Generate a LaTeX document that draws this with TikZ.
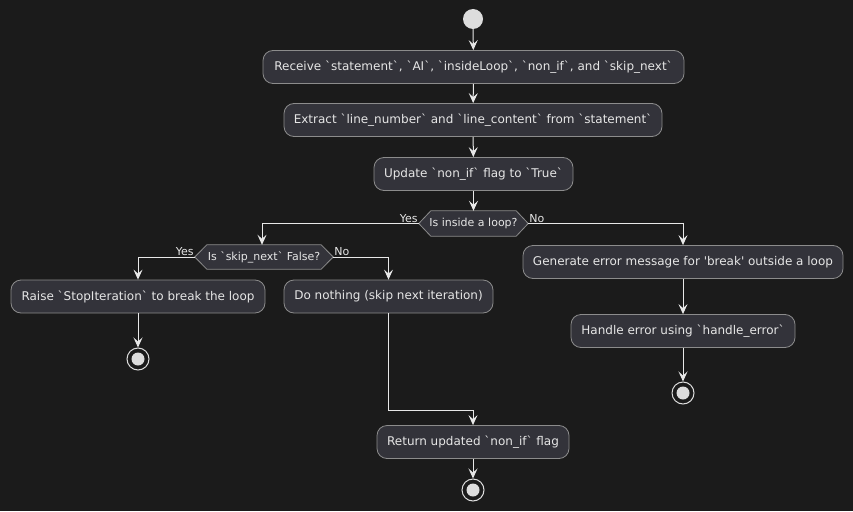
\documentclass[tikz,border=0pt]{standalone}
\usepackage{fontspec}
\setmainfont{DejaVu Sans}[Ligatures=TeXOff]
\usetikzlibrary{arrows.meta}
\definecolor{bg}{HTML}{1B1B1B}
\definecolor{boxfill}{HTML}{33333A}
\definecolor{boxline}{HTML}{8C8C8C}
\definecolor{txt}{HTML}{E6E6E6}
\definecolor{ln}{HTML}{E8E8E8}
\definecolor{dot}{HTML}{DDDDDD}
\tikzset{
  act/.style={draw=boxline, fill=boxfill, rounded corners=10pt, line width=0.8pt,
    text=txt, minimum height=33pt, inner sep=0pt, font=\fontsize{12}{14}\selectfont},
  dec/.style={inner sep=0pt, minimum height=25pt, text=txt, font=\fontsize{11}{13}\selectfont},
  hexa/.style={draw=boxline, fill=boxfill, line width=0.8pt},
  conn/.style={draw=ln, line width=1pt, -{Stealth[length=10pt,width=9pt,inset=4pt]}},
  lbl/.style={text=txt, inner sep=1pt, font=\fontsize{11}{13}\selectfont},
  startdot/.style={circle, fill=dot, minimum size=20pt, inner sep=0pt},
  enddot/.style={circle, draw=dot, line width=1pt, fill=bg, minimum size=22pt, inner sep=0pt,
    path picture={\fill[dot] (path picture bounding box.center) circle (6.5pt);}},
}
\begin{document}
\begin{tikzpicture}[x=1pt,y=-1pt]
\fill[bg] (0,0) rectangle (853,511);
\useasboundingbox (0,0) rectangle (853,511);

\node[startdot] (start) at (473,19) {};
\node[act, minimum width=421pt] (b1) at (473.5,67) {Receive `statement`, `AI`, `insideLoop`, `non\_if`, and `skip\_next`};
\node[act, minimum width=378pt] (b2) at (473,120) {Extract `line\_number` and `line\_content` from `statement`};
\node[act, minimum width=199pt] (b3) at (473.5,174) {Update `non\_if` flag to `True`};

\node[dec, minimum width=109pt] (d1) at (473.5,223.5) {Is inside a loop?};
\draw[hexa] (d1.west) -- ([xshift=12pt]d1.north west) -- ([xshift=-12pt]d1.north east) -- (d1.east)
  -- ([xshift=-12pt]d1.south east) -- ([xshift=12pt]d1.south west) -- cycle;
\node[dec, minimum width=109pt] at (473.5,223.5) {Is inside a loop?};

\node[dec, minimum width=138pt, minimum height=24pt] (d2) at (264,257) {Is `skip\_next` False?};
\draw[hexa] (d2.west) -- ([xshift=12pt]d2.north west) -- ([xshift=-12pt]d2.north east) -- (d2.east)
  -- ([xshift=-12pt]d2.south east) -- ([xshift=12pt]d2.south west) -- cycle;
\node[dec, minimum width=138pt, minimum height=24pt] at (264,257) {Is `skip\_next` False?};

\node[act, minimum width=254pt] (b4) at (138,296.5) {Raise `StopIteration` to break the loop};
\node[act, minimum width=209pt] (b5) at (388.5,296.5) {Do nothing (skip next iteration)};
\node[enddot] (e1) at (138,359) {};

\node[act, minimum width=192pt] (b6) at (473,442) {Return updated `non\_if` flag};
\node[enddot] (e2) at (473,490) {};

\node[act, minimum width=320pt] (b7) at (683,262) {Generate error message for 'break' outside a loop};
\node[act, minimum width=224pt] (b8) at (683,331) {Handle error using `handle\_error`};
\node[enddot] (e3) at (683,393) {};

\coordinate (m) at (473,410);

\draw[conn] (start) -- (b1);
\draw[conn] (b1) -- (b2);
\draw[conn] (b2) -- (b3);
\draw[conn] (b3) -- (d1);
\draw[conn] (d1.west) -| ([xshift=-2pt]d2.north);
\draw[conn] (d1.east) -| (b7.north);
\draw[conn] (d2.west) -| (b4.north);
\draw[conn] (d2.east) -| (b5.north);
\draw[conn] (b4) -- (e1);
\draw[conn] (b5.south) |- (m) -- (b6.north);
\draw[conn] (b6) -- (e2);
\draw[conn] (b7) -- (b8);
\draw[conn] (b8) -- (e3);

\node[lbl, anchor=south east] (y1) at (d1.west) {Yes};
\node[lbl, anchor=south west] (n1) at (d1.east) {No};
\node[lbl, anchor=south east] (y2) at (d2.west) {Yes};
\node[lbl, anchor=south west] (n2) at (d2.east) {No};
\end{tikzpicture}
\end{document}
